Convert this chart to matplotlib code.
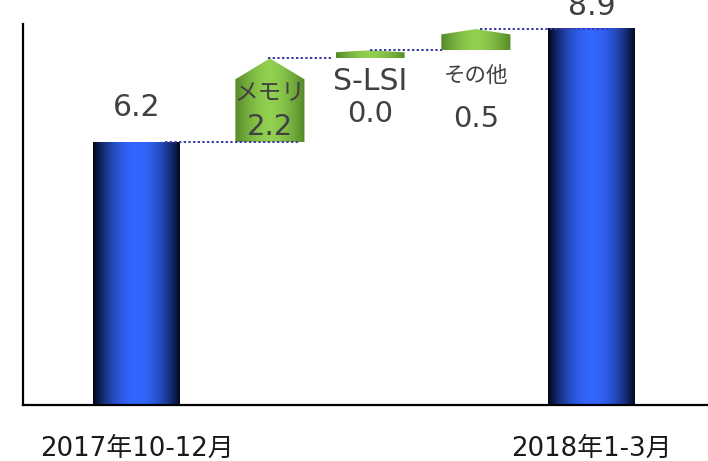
import numpy as np
import matplotlib.pyplot as plt
from matplotlib.patches import Polygon
from matplotlib.colors import to_rgb

# データ (兆円)
start_label = '2017年10-12月'
end_label = '2018年1-3月'
start_val = 6.2
end_val = 8.9
steps = ['メモリ', 'S-LSI', 'その他']
step_text = ['2.2', '0.0', '0.5']
step_drawn = [1.98, 0.19, 0.50]   # 図から読んだ高さ

# レイアウト
x_pos = [0, 1.17, 2.05, 2.98, 4]
bar_w = 0.765
step_w = 0.607
blue_edge, blue_mid = '#000514', '#3366ff'
green_edge, green_mid = '#558828', '#92d050'
txt_col = '#404040'


def grad_poly(ax, verts, c_edge, c_mid, z, p=2.0):
    poly = Polygon(verts, closed=True, facecolor='none', edgecolor='none')
    ax.add_patch(poly)
    xs = [v[0] for v in verts]
    ys = [v[1] for v in verts]
    t = np.linspace(0, 1, 256)
    w = 1 - np.abs(2 * t - 1) ** p
    e, m = np.array(to_rgb(c_edge)), np.array(to_rgb(c_mid))
    img = (e + (m - e) * w[:, None])[None, :, :]
    im = ax.imshow(img, extent=[min(xs), max(xs), min(ys), max(ys)],
                   aspect='auto', zorder=z, interpolation='bilinear')
    im.set_clip_path(poly)


fig = plt.figure(figsize=(7.08, 4.61), dpi=100)
ax = fig.add_axes([23 / 708, 56 / 461, 685 / 708, 381 / 461])

# 両端の棒
for x, v in [(x_pos[0], start_val), (x_pos[4], end_val)]:
    verts = [(x - bar_w / 2, 0), (x + bar_w / 2, 0), (x + bar_w / 2, v), (x - bar_w / 2, v)]
    grad_poly(ax, verts, blue_edge, blue_mid, 2)

# 増減分
levels = [start_val]
for d in step_drawn:
    levels.append(levels[-1] + d)

for i, d in enumerate(step_drawn):
    x = x_pos[i + 1]
    b, t = levels[i], levels[i + 1]
    pk = 0.25 * d
    verts = [(x - step_w / 2, b), (x + step_w / 2, b), (x + step_w / 2, t - pk),
             (x, t), (x - step_w / 2, t - pk)]
    grad_poly(ax, verts, green_edge, green_mid, 3, p=1.6)

# 点線
conn_x = [(0.25, 1.43), (1.15, 1.72), (2.05, 2.68), (3.02, 4.16)]
for (x0, x1), lv in zip(conn_x, levels):
    ax.plot([x0, x1], [lv, lv], color='#3a3aa8', lw=1.4, ls=(0, (1.2, 1.2)), zorder=4)

# ラベル
ax.text(x_pos[0], start_val + 0.83, f'{start_val:.1f}', ha='center', va='center',
        fontsize=21.5, color=txt_col)
ax.text(x_pos[4], end_val + 0.3, f'{end_val:.1f}', ha='center', va='baseline',
        fontsize=21.5, color=txt_col, clip_on=False)

name_y = [7.38, 7.64, 7.76]
name_fs = [17, 21.5, 15.5]
val_y = [6.56, 6.86, 6.75]
for i in range(3):
    x = x_pos[i + 1]
    fam = ['DejaVu Sans', 'Noto Sans CJK JP'] if steps[i] == 'S-LSI' else ['Noto Sans CJK JP', 'DejaVu Sans']
    ax.text(x, name_y[i], steps[i], ha='center', va='center', fontsize=name_fs[i],
            family=fam, color=txt_col, zorder=5)
    ax.text(x, val_y[i], step_text[i], ha='center', va='center', fontsize=21,
            color=txt_col, zorder=5)

ax.set_xlim(-1.0, 5.02)
ax.set_ylim(0, 8.99)
ax.set_xticks([x_pos[0], x_pos[4]])
ax.set_xticklabels([start_label, end_label], fontsize=18.7,
                   family=['DejaVu Sans', 'Noto Sans CJK JP'], color='#1a1a1a')
ax.tick_params(axis='x', length=0, pad=22)
ax.set_yticks([])
for s in ['top', 'right']:
    ax.spines[s].set_visible(False)
for s in ['left', 'bottom']:
    ax.spines[s].set_linewidth(1.6)
    ax.spines[s].set_color('black')

fig.savefig('out.png', dpi=100)
